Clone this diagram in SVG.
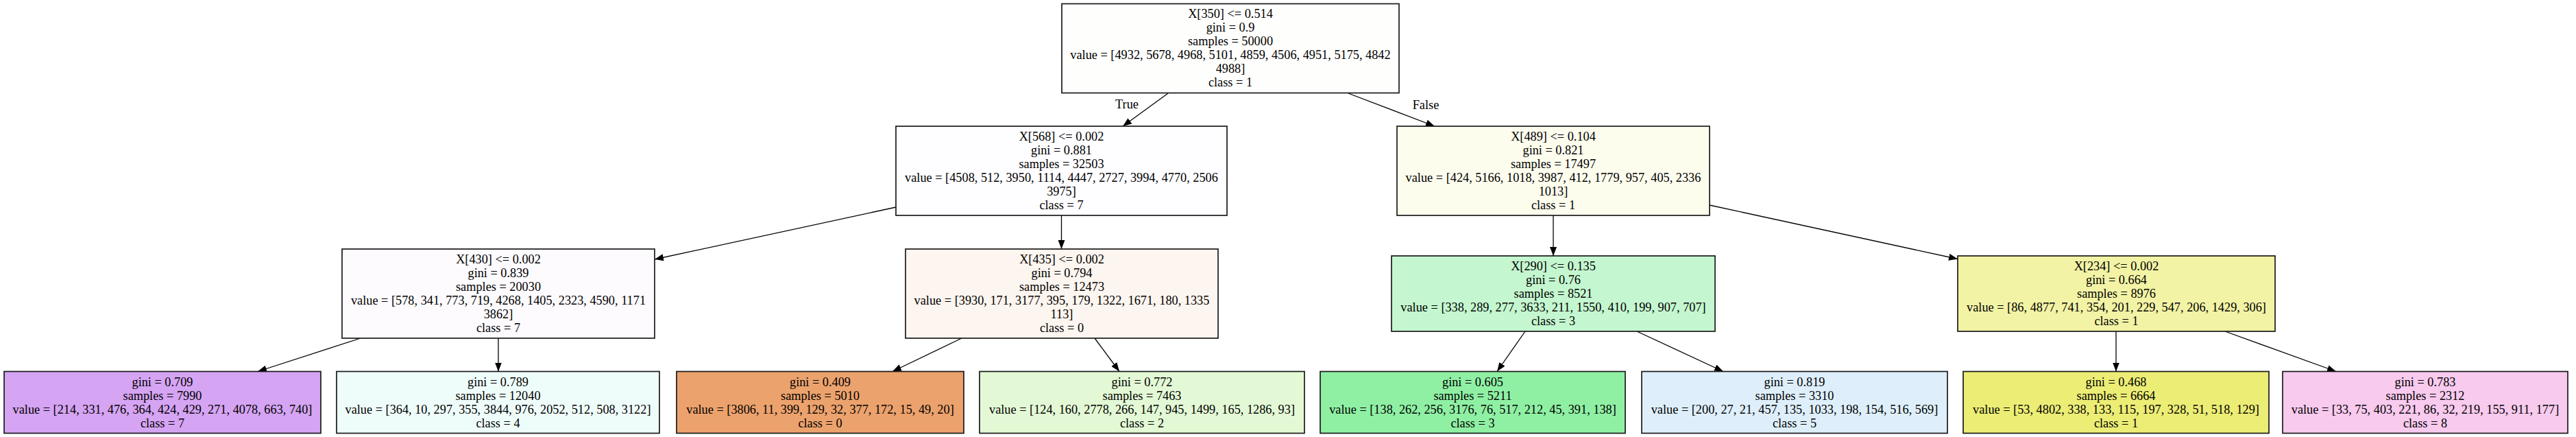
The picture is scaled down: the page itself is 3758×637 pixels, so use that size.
<svg xmlns="http://www.w3.org/2000/svg" width="3758" height="637" viewBox="0 0 3758 637">
<style>
.n{stroke:#1a1a1a;stroke-width:1.7}
text{font-family:"Liberation Serif","Times New Roman",serif;font-size:18.3px;fill:#000;text-anchor:middle}
.e{stroke:#000;stroke-width:1.3;fill:none;marker-end:url(#ah)}
</style>
<defs>
<marker id="ah" viewBox="0 0 13 10" refX="13" refY="5" markerWidth="13" markerHeight="10" orient="auto" markerUnits="userSpaceOnUse">
<path d="M0,0 L13,5 L0,10 z" fill="#000"/>
</marker>
</defs>
<rect width="3758" height="637" fill="#fff"/>
<g id="edges">
<line class="e" x1="1704" y1="136" x2="1638" y2="184"/>
<line class="e" x1="1967" y1="136" x2="2093" y2="184"/>
<line class="e" x1="1307" y1="302" x2="955" y2="378"/>
<line class="e" x1="1548.5" y1="314" x2="1548.5" y2="363"/>
<line class="e" x1="2266" y1="314" x2="2266" y2="373"/>
<line class="e" x1="2494" y1="299" x2="2856" y2="377.5"/>
<line class="e" x1="526" y1="493" x2="376" y2="541.5"/>
<line class="e" x1="727" y1="493" x2="727" y2="541.5"/>
<line class="e" x1="1403" y1="493" x2="1302" y2="541.5"/>
<line class="e" x1="1597" y1="493" x2="1633" y2="541.5"/>
<line class="e" x1="2225" y1="483" x2="2184" y2="541.5"/>
<line class="e" x1="2388" y1="483" x2="2514" y2="541.5"/>
<line class="e" x1="3087" y1="483" x2="3087" y2="541.5"/>
<line class="e" x1="3246" y1="483" x2="3408" y2="541.5"/>
<text x="1644" y="158">True</text>
<text x="2080" y="159">False</text>
</g>
<g id="root">
<rect class="n" x="1549" y="5.5" width="492" height="130" fill="#fefefd"/>
<text x="1795" y="26">X[350] &lt;= 0.514</text>
<text x="1795" y="46">gini = 0.9</text>
<text x="1795" y="66">samples = 50000</text>
<text x="1795" y="86">value = [4932, 5678, 4968, 5101, 4859, 4506, 4951, 5175, 4842</text>
<text x="1795" y="106">4988]</text>
<text x="1795" y="126">class = 1</text>
</g>
<g id="n568">
<rect class="n" x="1307" y="184" width="483" height="130" fill="#fefdff"/>
<text x="1548.5" y="205">X[568] &lt;= 0.002</text>
<text x="1548.5" y="225">gini = 0.881</text>
<text x="1548.5" y="245">samples = 32503</text>
<text x="1548.5" y="265">value = [4508, 512, 3950, 1114, 4447, 2727, 3994, 4770, 2506</text>
<text x="1548.5" y="285">3975]</text>
<text x="1548.5" y="305">class = 7</text>
</g>
<g id="n489">
<rect class="n" x="2038" y="184" width="456" height="130" fill="#fdfdee"/>
<text x="2266" y="205">X[489] &lt;= 0.104</text>
<text x="2266" y="225">gini = 0.821</text>
<text x="2266" y="245">samples = 17497</text>
<text x="2266" y="265">value = [424, 5166, 1018, 3987, 412, 1779, 957, 405, 2336</text>
<text x="2266" y="285">1013]</text>
<text x="2266" y="305">class = 1</text>
</g>
<g id="n430">
<rect class="n" x="499" y="363" width="456" height="130" fill="#fdfbfe"/>
<text x="727" y="384">X[430] &lt;= 0.002</text>
<text x="727" y="404">gini = 0.839</text>
<text x="727" y="424">samples = 20030</text>
<text x="727" y="444">value = [578, 341, 773, 719, 4268, 1405, 2323, 4590, 1171</text>
<text x="727" y="464">3862]</text>
<text x="727" y="484">class = 7</text>
</g>
<g id="n435">
<rect class="n" x="1321" y="363" width="456" height="130" fill="#fdf5ef"/>
<text x="1549" y="384">X[435] &lt;= 0.002</text>
<text x="1549" y="404">gini = 0.794</text>
<text x="1549" y="424">samples = 12473</text>
<text x="1549" y="444">value = [3930, 171, 3177, 395, 179, 1322, 1671, 180, 1335</text>
<text x="1549" y="464">113]</text>
<text x="1549" y="484">class = 0</text>
</g>
<g id="n290">
<rect class="n" x="2030" y="373" width="472" height="110" fill="#c4f7cf"/>
<text x="2266" y="394">X[290] &lt;= 0.135</text>
<text x="2266" y="414">gini = 0.76</text>
<text x="2266" y="434">samples = 8521</text>
<text x="2266" y="454">value = [338, 289, 277, 3633, 211, 1550, 410, 199, 907, 707]</text>
<text x="2266" y="474">class = 3</text>
</g>
<g id="n234">
<rect class="n" x="2856" y="373" width="463" height="110" fill="#f2f3a5"/>
<text x="3087.5" y="394">X[234] &lt;= 0.002</text>
<text x="3087.5" y="414">gini = 0.664</text>
<text x="3087.5" y="434">samples = 8976</text>
<text x="3087.5" y="454">value = [86, 4877, 741, 354, 201, 229, 547, 206, 1429, 306]</text>
<text x="3087.5" y="474">class = 1</text>
</g>
<g id="leaf1">
<rect class="n" x="6" y="541.5" width="462" height="90" fill="#d5a4f3"/>
<text x="237" y="563">gini = 0.709</text>
<text x="237" y="583">samples = 7990</text>
<text x="237" y="603">value = [214, 331, 476, 364, 424, 429, 271, 4078, 663, 740]</text>
<text x="237" y="623">class = 7</text>
</g>
<g id="leaf2">
<rect class="n" x="491" y="541.5" width="471" height="90" fill="#effdfa"/>
<text x="726.5" y="563">gini = 0.789</text>
<text x="726.5" y="583">samples = 12040</text>
<text x="726.5" y="603">value = [364, 10, 297, 355, 3844, 976, 2052, 512, 508, 3122]</text>
<text x="726.5" y="623">class = 4</text>
</g>
<g id="leaf3">
<rect class="n" x="987" y="541.5" width="419" height="90" fill="#eca26d"/>
<text x="1196.5" y="563">gini = 0.409</text>
<text x="1196.5" y="583">samples = 5010</text>
<text x="1196.5" y="603">value = [3806, 11, 399, 129, 32, 377, 172, 15, 49, 20]</text>
<text x="1196.5" y="623">class = 0</text>
</g>
<g id="leaf4">
<rect class="n" x="1429" y="541.5" width="474" height="90" fill="#e3f9d5"/>
<text x="1666" y="563">gini = 0.772</text>
<text x="1666" y="583">samples = 7463</text>
<text x="1666" y="603">value = [124, 160, 2778, 266, 147, 945, 1499, 165, 1286, 93]</text>
<text x="1666" y="623">class = 2</text>
</g>
<g id="leaf5">
<rect class="n" x="1926" y="541.5" width="445" height="90" fill="#8ff0a4"/>
<text x="2148.5" y="563">gini = 0.605</text>
<text x="2148.5" y="583">samples = 5211</text>
<text x="2148.5" y="603">value = [138, 262, 256, 3176, 76, 517, 212, 45, 391, 138]</text>
<text x="2148.5" y="623">class = 3</text>
</g>
<g id="leaf6">
<rect class="n" x="2395" y="541.5" width="446" height="90" fill="#deeffb"/>
<text x="2618" y="563">gini = 0.819</text>
<text x="2618" y="583">samples = 3310</text>
<text x="2618" y="603">value = [200, 27, 21, 457, 135, 1033, 198, 154, 516, 569]</text>
<text x="2618" y="623">class = 5</text>
</g>
<g id="leaf7">
<rect class="n" x="2864" y="541.5" width="446" height="90" fill="#eced75"/>
<text x="3087" y="563">gini = 0.468</text>
<text x="3087" y="583">samples = 6664</text>
<text x="3087" y="603">value = [53, 4802, 338, 133, 115, 197, 328, 51, 518, 129]</text>
<text x="3087" y="623">class = 1</text>
</g>
<g id="leaf8">
<rect class="n" x="3330" y="541.5" width="416" height="90" fill="#f8caee"/>
<text x="3538" y="563">gini = 0.783</text>
<text x="3538" y="583">samples = 2312</text>
<text x="3538" y="603">value = [33, 75, 403, 221, 86, 32, 219, 155, 911, 177]</text>
<text x="3538" y="623">class = 8</text>
</g>
</svg>
